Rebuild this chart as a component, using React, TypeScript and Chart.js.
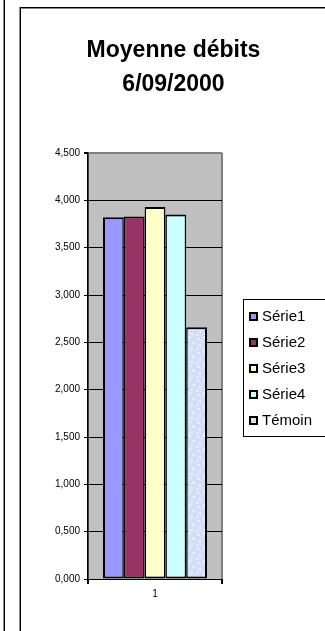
import React, { useEffect, useRef } from 'react';
import { Chart, registerables } from 'chart.js';

Chart.register(...registerables);

const categories = ['1'];
const seriesLabels = ['Série1', 'Série2', 'Série3', 'Série4', 'Témoin'];
const serie1 = [3.82];
const serie2 = [3.83];
const serie3 = [3.93];
const serie4 = [3.85];
const temoin = [2.66];
const seriesValues = [serie1, serie2, serie3, serie4, temoin];
const seriesColors = ['#9999FF', '#993366', '#FFFFCC', '#CCFFFF', '#D4DEF7'];
const titleLines = ['Moyenne débits', '6/09/2000'];
const yMin = 0;
const yMax = 4.5;
const yStep = 0.5;

const FONT = '"Liberation Sans", Arial, Helvetica, sans-serif';

function makeTexture(base: string): CanvasPattern | string {
  const c = document.createElement('canvas');
  c.width = 14;
  c.height = 14;
  const g = c.getContext('2d');
  if (!g) return base;
  g.fillStyle = base;
  g.fillRect(0, 0, 14, 14);
  g.fillStyle = 'rgba(236,241,252,0.8)';
  const spots = [[1, 2, 3, 2], [7, 0, 2, 3], [10, 6, 3, 2], [3, 8, 2, 3], [8, 11, 3, 2], [0, 12, 2, 2], [5, 4, 2, 1]];
  spots.forEach(([x, y, w, h]) => g.fillRect(x, y, w, h));
  g.fillStyle = 'rgba(196,210,244,0.6)';
  const dark = [[4, 1, 1, 2], [11, 2, 2, 1], [1, 5, 2, 1], [6, 9, 1, 2], [12, 10, 1, 2]];
  dark.forEach(([x, y, w, h]) => g.fillRect(x, y, w, h));
  return g.createPattern(c, 'repeat') || base;
}

const plotBg = {
  id: 'plotBg',
  beforeDraw(chart: any) {
    const { ctx, chartArea: a } = chart;
    ctx.save();
    ctx.fillStyle = '#C0C0C0';
    ctx.fillRect(a.left, a.top, a.right - a.left, a.bottom - a.top);
    ctx.restore();
  },
};

const legendBox = {
  id: 'legendBox',
  afterDraw(chart: any) {
    const ctx = chart.ctx;
    ctx.save();
    ctx.strokeStyle = '#000';
    ctx.lineWidth = 1;
    ctx.strokeRect(243.5, 299.5, 120, 137);
    ctx.font = '15px ' + FONT;
    ctx.textBaseline = 'middle';
    ctx.textAlign = 'left';
    chart.data.datasets.forEach((ds: any, i: number) => {
      const cy = 316 + i * 26;
      ctx.fillStyle = '#000';
      ctx.fillRect(249, cy - 4, 9, 9);
      ctx.fillStyle = ds.backgroundColor;
      ctx.fillRect(251, cy - 2, 5, 5);
      ctx.fillStyle = '#000';
      ctx.fillText(ds.label, 262, cy + 1);
    });
    ctx.restore();
  },
};

export default function App() {
  const ref = useRef<HTMLCanvasElement | null>(null);

  useEffect(() => {
    if (!ref.current) return;
    const n = seriesLabels.length;
    const fills = seriesColors.map((c, i) => (i === n - 1 ? makeTexture(c) : c));
    const chart = new Chart(ref.current, {
      type: 'bar',
      data: {
        labels: categories,
        datasets: seriesLabels.map((label, i) => ({
          label,
          data: seriesValues[i],
          backgroundColor: fills[i],
          borderColor: '#000',
          borderWidth: { top: 2, left: i === 0 ? 2 : 1.5, right: i === n - 1 ? 2 : 1.5, bottom: 2 },
          borderSkipped: false,
          categoryPercentage: 0.776,
          barPercentage: 1,
        })),
      },
      plugins: [plotBg, legendBox],
      options: {
        responsive: false,
        animation: false,
        devicePixelRatio: 1,
        layout: { padding: { left: 22, right: 0, top: 0, bottom: 0 } },
        plugins: {
          legend: { display: false },
          tooltip: { enabled: false },
          title: {
            display: true,
            text: titleLines,
            color: '#000',
            font: { family: FONT, size: 23, weight: 'bold', lineHeight: 1.5 },
            padding: { top: 33, bottom: 51 },
          },
        },
        scales: {
          x: {
            offset: true,
            grid: { color: '#808080', lineWidth: 2, tickColor: '#000', tickLength: 5, drawOnChartArea: true },
            border: { color: '#000', width: 1 },
            ticks: { color: '#000', font: { family: FONT, size: 10 }, padding: 4 },
            afterFit(s: any) { s.height = 52; },
          },
          y: {
            min: yMin,
            max: yMax,
            ticks: {
              stepSize: yStep,
              color: '#000',
              font: { family: FONT, size: 10 },
              padding: 4,
              callback: (v: any) => Number(v).toFixed(3).replace('.', ','),
            },
            grid: {
              color: (c: any) => (c.tick && Math.abs(c.tick.value - yMax) < 1e-6 ? '#808080' : '#000'),
              lineWidth: (c: any) => (c.tick && Math.abs(c.tick.value - yMax) < 1e-6 ? 2 : 1),
              tickColor: '#000',
              tickLength: 4,
            },
            border: { color: '#000', width: 1.5 },
            afterFit(s: any) { s.width = 66; },
          },
          yR: {
            position: 'right',
            display: true,
            grid: { display: false },
            border: { display: false },
            ticks: { display: false },
            afterFit(s: any) { s.width = 103; },
          },
        },
      },
    } as any);
    return () => chart.destroy();
  }, []);

  return (
    <div style={{ position: 'fixed', left: 0, top: 0, width: 325, height: 631, overflow: 'hidden', background: '#fff' }}>
      <canvas ref={ref} width={325} height={631} style={{ position: 'absolute', left: 0, top: 0 }} />
      <div style={{ position: 'absolute', left: 3, top: 0, width: 1, height: 631, background: '#888' }} />
      <div style={{ position: 'absolute', left: 4, top: 0, width: 1, height: 631, background: '#000' }} />
      <div style={{ position: 'absolute', left: 19, top: 7, width: 1, height: 624, background: '#888' }} />
      <div style={{ position: 'absolute', left: 20, top: 7, width: 1, height: 624, background: '#000' }} />
      <div style={{ position: 'absolute', left: 20, top: 7, width: 305, height: 1, background: '#000' }} />
      <div style={{ position: 'absolute', left: 21, top: 8, width: 304, height: 1, background: '#888' }} />
    </div>
  );
}
